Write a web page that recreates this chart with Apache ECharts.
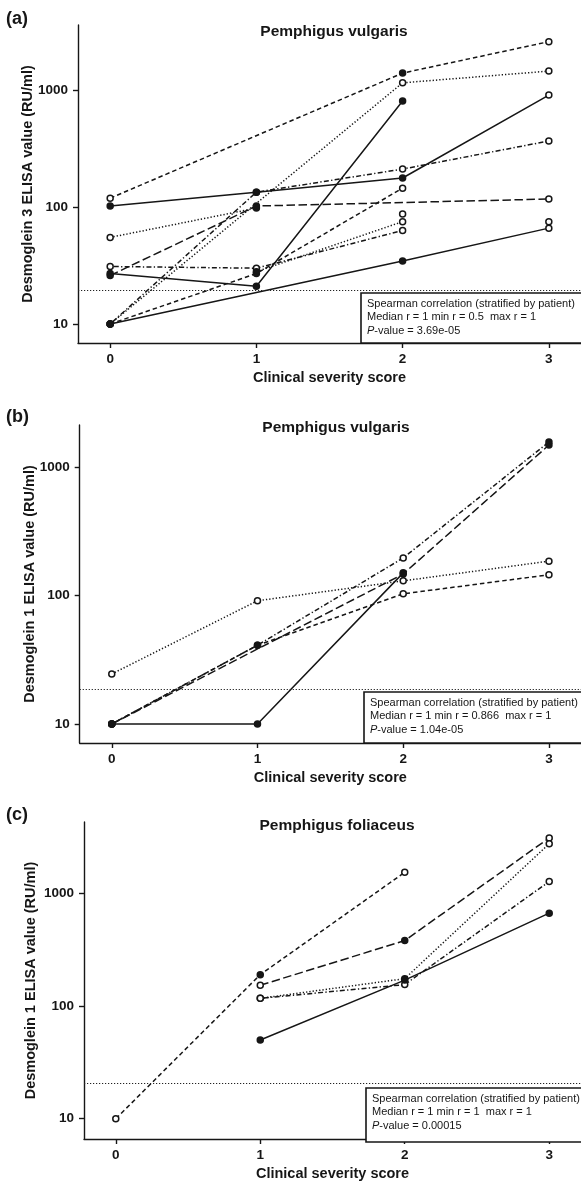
<!DOCTYPE html>
<html>
<head>
<meta charset="utf-8">
<script src="https://cdn.jsdelivr.net/npm/echarts@6.0.0/dist/echarts.min.js"></script>
<style>
  html, body { margin: 0; padding: 0; background: #fff; }
  #main { width: 581px; height: 1182px; }
</style>
</head>
<body>
<div id="main"></div>
<script>
// x = clinical severity score, y = ELISA value (RU/ml); one array per patient
const scoreTicks = [0, 1, 2, 3];
const valueTicks = [10, 100, 1000];

// (a) pemphigus vulgaris, desmoglein 3
const dsg3PV = [
  [[0, 119], [2, 1396], [3, 2590]],
  [[0, 10], [2, 1153], [3, 1452]],
  [[0, 27], [1, 21], [2, 805]],
  [[0, 10], [2, 34.5], [3, 66]],
  [[0, 102], [1, 134], [2, 177], [3, 906]],
  [[0, 10], [1, 134], [2, 211], [3, 367]],
  [[0, 26], [1, 102], [3, 117]],
  [[0, 55], [1, 98]],
  [[0, 31], [1, 30], [2, 63]],
  [[0, 10], [1, 27], [2, 145]],
  [[1, 28], [2, 75]],
  [[2, 87]],
  [[3, 75]]
];
const dsg3PVLines = ['dashed', 'dotted', 'solid', 'solid', 'solid', 'dotdash', 'longdash',
  'dotted', 'dotdash', 'dashed', 'dotted', 'solid', 'solid'];
const dsg3PVFilled = [[1], [0], [0, 1, 2], [0, 1], [0, 1, 2], [0, 1], [0, 1], [1], [], [0, 1], [0], [], []];
const dsg3PVCutoff = 19.5;

// (b) pemphigus vulgaris, desmoglein 1
const dsg1PV = [
  [[0, 24.5], [1, 91], [2, 130], [3, 185]],
  [[0, 10], [1, 41], [2, 103], [3, 145]],
  [[0, 10], [1, 41], [2, 196], [3, 1566]],
  [[0, 10], [2, 147], [3, 1483]],
  [[0, 10], [1, 10], [2, 150]]
];
const dsg1PVLines = ['dotted', 'dashed', 'dotdash', 'longdash', 'solid'];
const dsg1PVFilled = [[], [0, 1], [0, 1, 3], [0, 1, 2], [0, 1, 2]];
const dsg1PVCutoff = 18.7;

// (c) pemphigus foliaceus, desmoglein 1
const dsg1PF = [
  [[0, 10], [1, 190], [2, 1538]],
  [[1, 153], [2, 381], [3, 3104]],
  [[1, 117], [2, 175], [3, 2757]],
  [[1, 117], [2, 155], [3, 1274]],
  [[1, 50], [2, 170], [3, 667]]
];
const dsg1PFLines = ['dashed', 'longdash', 'dotted', 'dotdash', 'solid'];
const dsg1PFFilled = [[1], [1], [1], [], [0, 1, 2]];
const dsg1PFCutoff = 20.7;

const ink = '#161616';
const fam = '"Liberation Sans", Arial, sans-serif';
const dashes = {
  solid: 'solid',
  dashed: [4.5, 3],
  longdash: [8.5, 3.5],
  dotted: [1.3, 2],
  dotdash: [1.3, 2.3, 5, 2.3]
};

function panelSeries(idx, patients, kinds, filled, cutoff) {
  return patients.map(function (pts, i) {
    const s = {
      type: 'line',
      xAxisIndex: idx,
      yAxisIndex: idx,
      data: pts.map(function (p, j) {
        return { value: p, itemStyle: { color: filled[i].indexOf(j) >= 0 ? ink : '#fff' } };
      }),
      symbol: 'circle',
      symbolSize: 6,
      lineStyle: { color: ink, width: 1.5, type: dashes[kinds[i]] },
      itemStyle: { color: '#fff', borderColor: ink, borderWidth: 1.5 },
      silent: true,
      animation: false
    };
    if (i === 0) {
      s.markLine = {
        silent: true,
        symbol: 'none',
        label: { show: false },
        lineStyle: { color: '#222', width: 1.1, type: [1.2, 1.8] },
        data: [{ yAxis: cutoff }]
      };
    }
    return s;
  });
}

function xAx(i) {
  return {
    type: 'value',
    gridIndex: i,
    min: -0.22,
    max: 3.22,
    name: 'Clinical severity score',
    nameLocation: 'middle',
    nameGap: 27,
    nameMoveOverlap: false,
    nameTextStyle: { fontFamily: fam, fontWeight: 'bold', fontSize: 14.5, color: ink },
    axisLine: { show: true, onZero: false, lineStyle: { color: ink, width: 1.4 } },
    axisTick: { show: true, length: 5, customValues: scoreTicks, lineStyle: { color: ink, width: 1.4 } },
    axisLabel: { customValues: scoreTicks, margin: 9, fontFamily: fam, fontWeight: 'bold', fontSize: 13.5, color: ink },
    splitLine: { show: false }
  };
}

function yAx(i, name, min, max, gap) {
  return {
    type: 'log',
    logBase: 10,
    gridIndex: i,
    min: min,
    max: max,
    name: name,
    nameLocation: 'middle',
    nameGap: gap,
    nameMoveOverlap: false,
    nameTextStyle: { fontFamily: fam, fontWeight: 'bold', fontSize: 14.5, color: ink },
    axisLine: { show: true, onZero: false, lineStyle: { color: ink, width: 1.4 } },
    axisTick: { show: true, length: 5, customValues: valueTicks, lineStyle: { color: ink, width: 1.4 } },
    axisLabel: {
      customValues: valueTicks, margin: 10, fontFamily: fam, fontWeight: 'bold', fontSize: 13.5, color: ink,
      formatter: function (v) { return String(Math.round(v)); }
    },
    splitLine: { show: false }
  };
}

function label(x, y, text, font, align) {
  return { type: 'text', x: x, y: y, silent: true,
    style: { text: text, font: font, fill: ink, align: align || 'left', verticalAlign: 'middle' } };
}

function statBox(x, y, h, lines) {
  const f = '11px ' + fam;
  return [
    { type: 'rect', silent: true, z: 10,
      shape: { x: x, y: y, width: 260, height: h },
      style: { fill: '#fff', stroke: ink, lineWidth: 1.6 } },
    { type: 'text', x: x + 6, y: y + 10.5, z: 11, silent: true,
      style: { text: lines[0], font: f, fill: ink, verticalAlign: 'middle' } },
    { type: 'text', x: x + 6, y: y + 24, z: 11, silent: true,
      style: { text: lines[1], font: f, fill: ink, verticalAlign: 'middle' } },
    { type: 'text', x: x + 6, y: y + 37.5, z: 11, silent: true,
      style: { text: '{i|P}-value = ' + lines[2], font: f, fill: ink, verticalAlign: 'middle',
        rich: { i: { fontStyle: 'italic', fontSize: 11, fontFamily: fam } } } }
  ];
}

const chart = echarts.init(document.getElementById('main'));
const titleFont = 'bold 15.5px ' + fam;
const letterFont = 'bold 18px ' + fam;

chart.setOption({
  animation: false,
  grid: [
    { left: 78, top: 25, width: 505.7, height: 318 },
    { left: 79.7, top: 425, width: 504.6, height: 318 },
    { left: 84, top: 822, width: 500, height: 320 }
  ],
  xAxis: [xAx(0), xAx(1), xAx(2)],
  yAxis: [
    yAx(0, 'Desmoglein 3 ELISA value (RU/ml)', 6.88, 3597, 43),
    yAx(1, 'Desmoglein 1 ELISA value (RU/ml)', 7.11, 2123, 42),
    yAx(2, 'Desmoglein 1 ELISA value (RU/ml)', 6.61, 4297, 46)
  ],
  series: []
    .concat(panelSeries(0, dsg3PV, dsg3PVLines, dsg3PVFilled, dsg3PVCutoff))
    .concat(panelSeries(1, dsg1PV, dsg1PVLines, dsg1PVFilled, dsg1PVCutoff))
    .concat(panelSeries(2, dsg1PF, dsg1PFLines, dsg1PFFilled, dsg1PFCutoff)),
  graphic: [
    label(6, 19, '(a)', letterFont),
    label(334, 32, 'Pemphigus vulgaris', titleFont, 'center'),
    label(6, 417, '(b)', letterFont),
    label(336, 428, 'Pemphigus vulgaris', titleFont, 'center'),
    label(6, 815, '(c)', letterFont),
    label(337, 826, 'Pemphigus foliaceus', titleFont, 'center')
  ]
    .concat(statBox(361, 293, 50, ['Spearman correlation (stratified by patient)',
      'Median r = 1 min r = 0.5  max r = 1', '3.69e-05']))
    .concat(statBox(364, 692, 51, ['Spearman correlation (stratified by patient)',
      'Median r = 1 min r = 0.866  max r = 1', '1.04e-05']))
    .concat(statBox(366, 1088, 54, ['Spearman correlation (stratified by patient)',
      'Median r = 1 min r = 1  max r = 1', '0.00015']))
});
</script>
</body>
</html>
